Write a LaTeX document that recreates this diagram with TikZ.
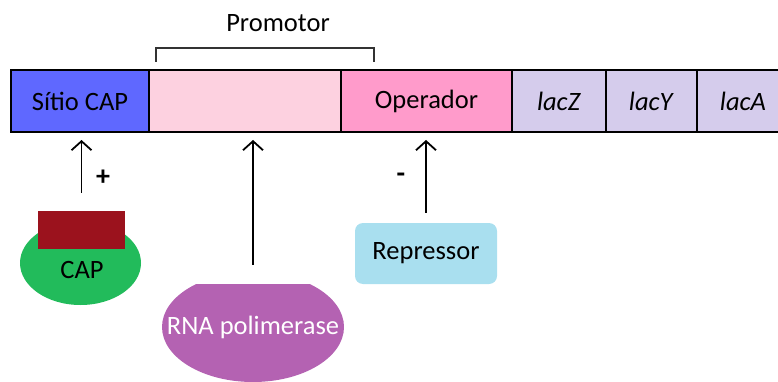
\documentclass[tikz,border=0pt]{standalone}
\usepackage{fontspec}
\setmainfont{Carlito}
\usetikzlibrary{arrows.meta,positioning,shapes.geometric}
\definecolor{siteBlue}{HTML}{5F68FF}
\definecolor{promPink}{HTML}{FDD1E0}
\definecolor{operPink}{HTML}{FF9BCB}
\definecolor{lacLilac}{HTML}{D5CCEC}
\definecolor{capGreen}{HTML}{22BB5B}
\definecolor{capRed}{HTML}{9B121D}
\definecolor{rnaPurple}{HTML}{B462B2}
\definecolor{repBlue}{HTML}{A9DFEF}

\begin{document}
\begin{tikzpicture}[
  x=1pt, y=-1pt,
  every node/.style={font=\fontsize{26.5}{30}\selectfont},
  cell/.style={draw, line width=2.5pt, minimum height=62pt, inner sep=0pt, outer sep=0pt},
  act/.style={-{Straight Barb[length=9pt,width=20pt]}, line width=1.8pt},
  sign/.style={font=\fontsize{28}{30}\selectfont\bfseries}
]
\useasboundingbox (0,0) rectangle (778,382);

% operon bar
\node[cell, fill=siteBlue, minimum width=138pt, anchor=west] (site) at (11,101) {Sítio CAP};
\node[cell, fill=promPink, minimum width=192pt, right=0pt of site] (prom) {};
\node[cell, fill=operPink, minimum width=171pt, right=0pt of prom] (oper) {Operador};
\node[cell, fill=lacLilac, minimum width=94pt, right=0pt of oper] (lacZ) {\textit{lacZ}};
\node[cell, fill=lacLilac, minimum width=91pt, right=0pt of lacZ] (lacY) {\textit{lacY}};
\node[cell, fill=lacLilac, minimum width=92pt, right=0pt of lacY] (lacA) {\textit{lacA}};

% promoter bracket
\draw[line width=1.4pt, draw=black!80] (156,62) -- (156,48) -- (374,48) -- (374,62);
\node (promLabel) at (278,23) {Promotor};

% CAP protein
\node[ellipse, fill=capGreen, minimum width=121pt, minimum height=84pt, inner sep=0pt] (cap) at (80.5,263) {};
\node[fill=capRed, minimum width=87pt, minimum height=38pt, inner sep=0pt] (capSite) at (81.5,230) {};
\node (capText) at (82,270) {CAP};

% RNA polymerase, flat on top
\node[ellipse, minimum width=182pt, minimum height=110pt, inner sep=0pt,
  path picture={\fill[rnaPurple] ([yshift=-12pt]path picture bounding box.north west) rectangle (path picture bounding box.south east);}]
  (rnap) at (253,327) {};
\node[text=white] (rnapText) at (rnap.center) {RNA polimerase};

% repressor
\node[rounded corners=8pt, fill=repBlue, minimum width=142pt, minimum height=61pt, inner sep=0pt] (rep) at (426,253.5) {Repressor};

% arrows to the DNA
\draw[act, shorten <=18pt, shorten >=8pt] (capSite.north) -- (capSite.north |- site.south);
\draw[act, shorten <=7pt, shorten >=8pt] (rnap.north) -- (rnap.north |- prom.south);
\draw[act, shorten <=10pt, shorten >=8pt] (rep.north) -- (rep.north |- oper.south);
\node[sign] (plus) at (103,178) {+};
\node[sign] (minus) at (401,178) {-};
\end{tikzpicture}
\end{document}
